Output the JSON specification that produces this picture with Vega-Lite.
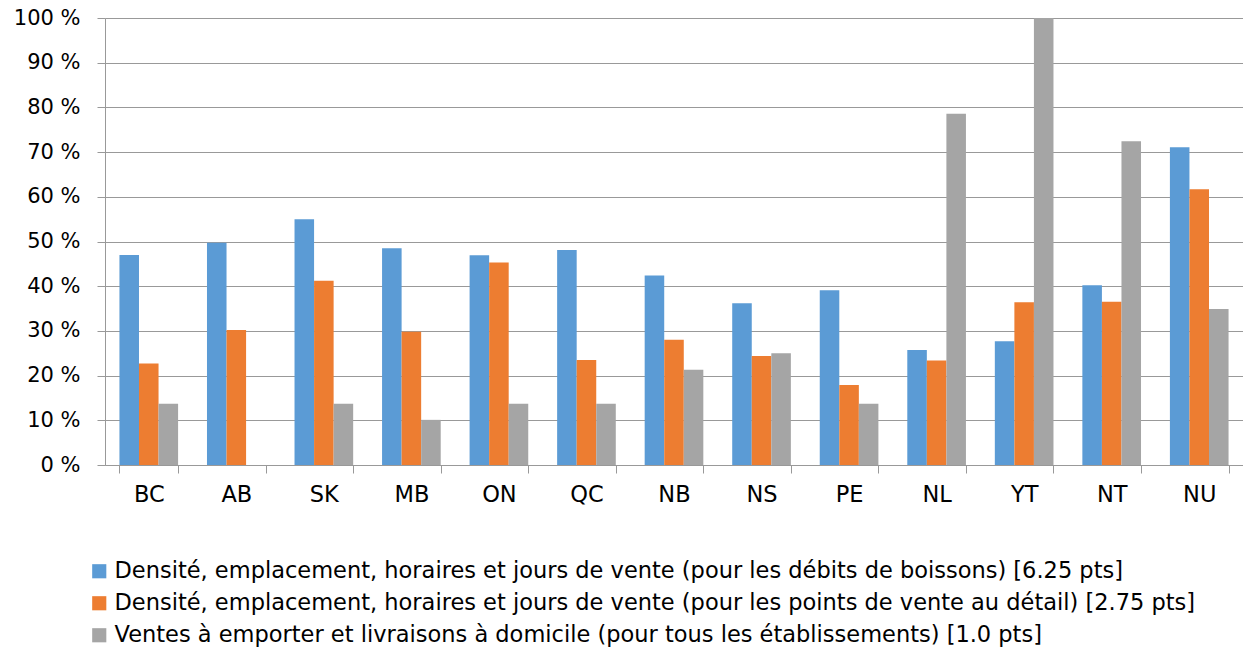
{
  "$schema": "https://vega.github.io/schema/vega-lite/v6.json",
  "width": 1138,
  "height": 447,
  "autosize": "none",
  "padding": {"left": 105, "top": 18, "right": 0, "bottom": 189},
  "background": "white",
  "config": {"view": {"stroke": null}, "font": "DejaVu Sans"},
  "data": {"values": [
    {"prov": "BC", "serie": "S1", "val": 47.0}, {"prov": "BC", "serie": "S2", "val": 22.7}, {"prov": "BC", "serie": "S3", "val": 13.7},
    {"prov": "AB", "serie": "S1", "val": 49.7}, {"prov": "AB", "serie": "S2", "val": 30.2}, {"prov": "AB", "serie": "S3", "val": 0},
    {"prov": "SK", "serie": "S1", "val": 55.0}, {"prov": "SK", "serie": "S2", "val": 41.2}, {"prov": "SK", "serie": "S3", "val": 13.7},
    {"prov": "MB", "serie": "S1", "val": 48.5}, {"prov": "MB", "serie": "S2", "val": 29.8}, {"prov": "MB", "serie": "S3", "val": 10.1},
    {"prov": "ON", "serie": "S1", "val": 46.9}, {"prov": "ON", "serie": "S2", "val": 45.3}, {"prov": "ON", "serie": "S3", "val": 13.7},
    {"prov": "QC", "serie": "S1", "val": 48.1}, {"prov": "QC", "serie": "S2", "val": 23.5}, {"prov": "QC", "serie": "S3", "val": 13.7},
    {"prov": "NB", "serie": "S1", "val": 42.4}, {"prov": "NB", "serie": "S2", "val": 28.0}, {"prov": "NB", "serie": "S3", "val": 21.3},
    {"prov": "NS", "serie": "S1", "val": 36.2}, {"prov": "NS", "serie": "S2", "val": 24.4}, {"prov": "NS", "serie": "S3", "val": 25.0},
    {"prov": "PE", "serie": "S1", "val": 39.1}, {"prov": "PE", "serie": "S2", "val": 17.9}, {"prov": "PE", "serie": "S3", "val": 13.7},
    {"prov": "NL", "serie": "S1", "val": 25.7}, {"prov": "NL", "serie": "S2", "val": 23.4}, {"prov": "NL", "serie": "S3", "val": 78.6},
    {"prov": "YT", "serie": "S1", "val": 27.7}, {"prov": "YT", "serie": "S2", "val": 36.4}, {"prov": "YT", "serie": "S3", "val": 100},
    {"prov": "NT", "serie": "S1", "val": 40.2}, {"prov": "NT", "serie": "S2", "val": 36.5}, {"prov": "NT", "serie": "S3", "val": 72.4},
    {"prov": "NU", "serie": "S1", "val": 71.1}, {"prov": "NU", "serie": "S2", "val": 61.7}, {"prov": "NU", "serie": "S3", "val": 34.9}
  ]},
  "mark": {"type": "bar"},
  "encoding": {
    "x": {
      "field": "prov", "type": "nominal", "sort": null,
      "scale": {"paddingInner": 0.33, "paddingOuter": 0.165},
      "axis": {
        "title": null, "labelAngle": 0, "labelFontSize": 22.5, "labelColor": "#000000",
        "tickBand": "extent", "tickSize": 8, "tickColor": "#999999", "domainColor": "#999999",
        "labelPadding": 10, "grid": false
      }
    },
    "xOffset": {"field": "serie", "type": "nominal", "sort": ["S1", "S2", "S3"], "scale": {"paddingInner": 0, "paddingOuter": 0}},
    "y": {
      "field": "val", "type": "quantitative",
      "scale": {"domain": [0, 100], "nice": false},
      "axis": {
        "title": null, "values": [0, 10, 20, 30, 40, 50, 60, 70, 80, 90, 100],
        "labelExpr": "datum.value + ' %'", "labelFontSize": 21, "labelColor": "#000000",
        "tickSize": 8, "tickColor": "#999999", "domainColor": "#999999",
        "gridColor": "#999999", "gridWidth": 1.2, "labelPadding": 17
      }
    },
    "color": {
      "field": "serie", "type": "nominal",
      "scale": {"domain": ["S1", "S2", "S3"], "range": ["#5B9BD5", "#ED7D31", "#A5A5A5"]},
      "legend": {
        "title": null, "orient": "none", "legendX": -17, "legendY": 542, "direction": "vertical",
        "symbolType": "square", "symbolSize": 200, "symbolStrokeWidth": 0,
        "labelFontSize": 22.5, "labelFont": "DejaVu Sans", "labelColor": "#000000", "labelLimit": 1200,
        "rowPadding": 9, "labelOffset": 4, "padding": 0,
        "labelExpr": "datum.value == 'S1' ? 'Densité, emplacement, horaires et jours de vente (pour les débits de boissons) [6.25 pts]' : datum.value == 'S2' ? 'Densité, emplacement, horaires et jours de vente (pour les points de vente au détail) [2.75 pts]' : 'Ventes à emporter et livraisons à domicile (pour tous les établissements) [1.0 pts]'"
      }
    }
  }
}
